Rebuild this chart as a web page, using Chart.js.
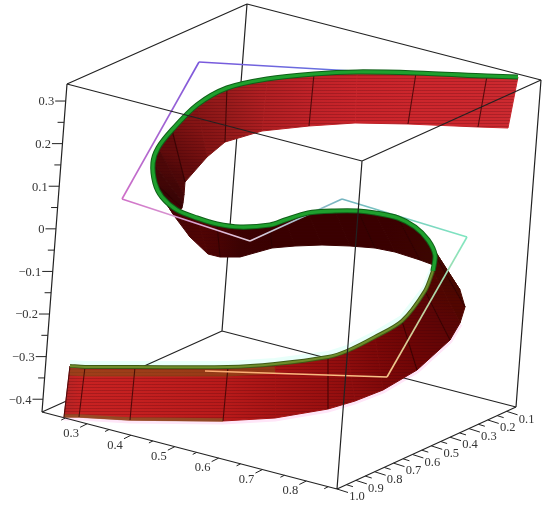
<!DOCTYPE html>
<html>
<head>
<meta charset="utf-8">
<style>
  html, body { margin: 0; padding: 0; background: #fff; }
  canvas { display: block; filter: blur(0.35px); }
</style>
<script src="https://cdn.jsdelivr.net/npm/chart.js@4"></script>
</head>
<body>
<canvas id="grafico" width="550" height="508"></canvas>
<script>
// cantos da caixa 3D
const boxX = [67, 247, 541, 362, 42, 222, 516, 337];
const boxY = [84, 4, 80, 161, 412, 331, 407, 489];
const backEdges = [[0, 1], [1, 2], [1, 5], [4, 5], [5, 6]];
const frontEdges = [[0, 3], [3, 2], [3, 7], [6, 7], [7, 4], [2, 6], [0, 4]];

// eixos
const zTicks = [0.3, 0.2, 0.1, 0, -0.1, -0.2, -0.3, -0.4];
const zMinor = [0.25, 0.15, 0.05, -0.05, -0.15, -0.25, -0.35];
const xTicks = [0.3, 0.4, 0.5, 0.6, 0.7, 0.8];
const xMinor = [0.25, 0.35, 0.45, 0.55, 0.65, 0.75, 0.85];
const yTicks = [0.1, 0.2, 0.3, 0.4, 0.5, 0.6, 0.7, 0.8, 0.9, 1.0];
const yMinor = [0.15, 0.25, 0.35, 0.45, 0.55, 0.65, 0.75, 0.85, 0.95];

// fita: borda de cima e borda de baixo, estacao por estacao
const topX = [518, 487, 416, 357, 314, 267, 227, 197, 172, 158, 153, 155, 162, 177, 197, 217, 240, 270, 285, 308, 335, 358, 375, 398, 415, 428, 435, 433, 425, 402, 375, 347, 328, 275, 228, 135, 85, 70];
const topY = [77, 76, 73, 72, 74, 79, 88, 105, 130, 148, 163, 183, 197, 210, 218, 224, 227, 225, 220, 213, 211, 211, 213, 218, 227, 240, 255, 271, 291, 321, 337, 351, 357, 364, 367, 367, 367, 366];
const botX = [508, 478, 408, 355, 309, 262, 225, 207, 185, 184, 183, 182, 175, 190, 208, 220, 240, 272, 295, 322, 350, 375, 395, 420, 447, 460, 465, 460, 450, 417, 383, 355, 328, 275, 223, 130, 79, 64];
const botY = [128, 127, 124, 123, 126, 131, 142, 157, 182, 195, 203, 208, 217, 237, 254, 257, 257, 248, 246, 245, 246, 248, 252, 260, 270, 290, 307, 323, 340, 370, 390, 401, 409, 418, 421, 420, 417, 417];
const ribbonShade = ['#cc2a30', '#cc282e', '#cc262c', '#c8242a', '#c02228', '#b01f22', '#951a1a', '#851414', '#640c0c', '#4e0808', '#420606', '#3a0505', '#420404', '#4a0404', '#500404', '#4a0303', '#3c0202', '#3a0000', '#3a0000', '#3a0000', '#3a0000', '#3a0000', '#3a0000', '#3c0200', '#3c0600', '#420800', '#480800', '#520600', '#5c0505', '#6e0505', '#7e0808', '#8e0d0d', '#980f0f', '#a81414', '#b81a1a', '#c42020', '#c82222', '#b82424'];
const ribStations = [1, 2, 4, 6, 8, 11, 15, 17, 21, 23, 26, 28, 29, 32, 34, 35, 36, 37];
const greenBreak = 27; // a partir daqui a borda verde fica oliva

// linha colorida fina que passa pela fita
const pathX = [370, 199, 122, 250, 342, 467, 387, 205];
const pathY = [72, 62, 199, 241, 199, 237, 377, 371];
const pathColors = ['#5f78e0', '#7a58dc', '#d070c8', '#e2cbdc', '#74b4c0', '#7fe6c0', '#f8c488', '#ffa870'];

const canvas = document.getElementById('grafico');
const ctx = canvas.getContext('2d');

function pontos(xs, ys) {
    return xs.map((x, i) => ({ x: x, y: ys[i] }));
}

function linha(data, cor, largura, extra) {
    return Object.assign({ data: data, showLine: true, borderColor: cor, borderWidth: largura, pointRadius: 0, fill: false, tension: 0 }, extra || {});
}

// ponto numa aresta da caixa, dado o valor do eixo
function naAresta(a, b, vA, vB, v) {
    const t = (v - vA) / (vB - vA);
    return { x: boxX[a] + (boxX[b] - boxX[a]) * t, y: boxY[a] + (boxY[b] - boxY[a]) * t };
}
const zPos = v => naAresta(0, 4, 0.34, -0.43, v);
const xPos = v => naAresta(4, 7, 0.197, 0.87, v);
const yPos = v => naAresta(7, 6, 1.0, 0.05, v);

function marcas(valores, posFn, dx, dy) {
    const out = [];
    valores.forEach(v => {
        const p = posFn(v);
        out.push(p, { x: p.x + dx, y: p.y + dy }, { x: NaN, y: NaN });
    });
    return out;
}

function arestas(lista) {
    const out = [];
    lista.forEach(e => {
        out.push({ x: boxX[e[0]], y: boxY[e[0]] }, { x: boxX[e[1]], y: boxY[e[1]] }, { x: NaN, y: NaN });
    });
    return out;
}

const datasets = [];

// halos claros em volta da parte de baixo da fita
datasets.push(linha(pontos(topX.slice(greenBreak), topY.slice(greenBreak).map(y => y - 3)), '#e8fffa', 6));
datasets.push(linha(pontos(botX.slice(greenBreak), botY.slice(greenBreak).map(y => y + 1)), '#ffe6f8', 5));

datasets.push(linha(arestas(backEdges), '#222', 1.2));

// quadrilateros da fita
for (let i = 0; i < topX.length - 1; i++) {
    datasets.push({
        data: [
            { x: topX[i], y: topY[i] }, { x: topX[i + 1], y: topY[i + 1] },
            { x: botX[i + 1], y: botY[i + 1] }, { x: botX[i], y: botY[i] }
        ],
        showLine: false,
        pointRadius: 0,
        quad: true,
        shadeFrom: ribbonShade[i],
        shadeTo: ribbonShade[i + 1]
    });
}

// faixas acastanhadas da parte de baixo
datasets.push(linha(pontos(topX.slice(33), topY.slice(33).map(y => y + 6)), 'rgba(125,85,20,0.55)', 7));
datasets.push(linha(pontos(botX.slice(34), botY.slice(34).map(y => y - 1)), 'rgba(130,95,40,0.65)', 3.5));

// nervuras
ribStations.forEach(i => {
    datasets.push(linha([{ x: topX[i], y: topY[i] }, { x: botX[i], y: botY[i] }], 'rgba(45,0,0,0.75)', 1.1));
});

// linha colorida, um gradiente por lado
for (let i = 0; i < pathX.length - 1; i++) {
    const g = ctx.createLinearGradient(pathX[i], pathY[i], pathX[i + 1], pathY[i + 1]);
    g.addColorStop(0, pathColors[i]);
    g.addColorStop(1, pathColors[i + 1]);
    datasets.push(linha([{ x: pathX[i], y: pathY[i] }, { x: pathX[i + 1], y: pathY[i + 1] }], g, 1.6));
}

// borda verde
const greenCimaX = topX.slice(0, greenBreak + 1), greenCimaY = topY.slice(0, greenBreak + 1);
const greenBaixoX = topX.slice(greenBreak), greenBaixoY = topY.slice(greenBreak);
datasets.push(linha(pontos(greenBaixoX, greenBaixoY), '#3e5a14', 4, { tension: 0.3 }));
datasets.push(linha(pontos(greenBaixoX, greenBaixoY), '#6d8c2a', 2, { tension: 0.3 }));
datasets.push(linha(pontos(greenCimaX, greenCimaY), '#0f6018', 5.2, { tension: 0.3 }));
datasets.push(linha(pontos(greenCimaX, greenCimaY), '#1fa02e', 3.2, { tension: 0.3 }));

datasets.push(linha(arestas(frontEdges), '#222', 1.2));

// marcas dos eixos
datasets.push(linha(marcas(zTicks, zPos, -10.5, 0), '#222', 1));
datasets.push(linha(marcas(zMinor, zPos, -6.5, 0), '#222', 1));
datasets.push(linha(marcas(xTicks, xPos, -7, 3.5), '#222', 1));
datasets.push(linha(marcas(xMinor, xPos, -4, 2), '#222', 1));
datasets.push(linha(marcas(yTicks, yPos, 11, 3.5), '#222', 1));
datasets.push(linha(marcas(yMinor, yPos, 6.5, 2), '#222', 1));

// o Chart desenha do maior order para o menor
datasets.forEach((d, i) => { d.order = datasets.length - i; });

// textura de riscas finas da superficie
const riscas = document.createElement('canvas');
riscas.width = 4;
riscas.height = 3;
const rctx = riscas.getContext('2d');
rctx.fillStyle = 'rgba(60,0,10,0.22)';
rctx.fillRect(0, 0, 4, 1);

const quadPlugin = {
    id: 'quadPlugin',
    beforeDatasetDraw(chart, args) {
        const d = chart.data.datasets[args.index];
        if (!d.quad) return;
        const pts = args.meta.data;
        const c = chart.ctx;
        const g = c.createLinearGradient(
            (pts[0].x + pts[3].x) / 2, (pts[0].y + pts[3].y) / 2,
            (pts[1].x + pts[2].x) / 2, (pts[1].y + pts[2].y) / 2
        );
        g.addColorStop(0, d.shadeFrom);
        g.addColorStop(1, d.shadeTo);
        c.save();
        c.beginPath();
        c.moveTo(pts[0].x, pts[0].y);
        for (let i = 1; i < 4; i++) c.lineTo(pts[i].x, pts[i].y);
        c.closePath();
        c.fillStyle = g;
        c.strokeStyle = g;
        c.lineWidth = 1;
        c.fill();
        c.stroke();
        c.fillStyle = c.createPattern(riscas, 'repeat');
        c.fill();
        c.restore();
    }
};

const rotulosPlugin = {
    id: 'rotulosPlugin',
    afterDraw(chart) {
        const c = chart.ctx, sx = chart.scales.x, sy = chart.scales.y;
        const texto = (t, p, dx, dy, align) => {
            c.textAlign = align;
            c.fillText(t, sx.getPixelForValue(p.x) + dx, sy.getPixelForValue(p.y) + dy);
        };
        c.save();
        c.font = '12.5px "Liberation Serif"';
        c.fillStyle = '#333';
        c.textBaseline = 'middle';
        zTicks.forEach(v => {
            const t = v === 0 ? '0' : (v < 0 ? '\u2212' + (-v).toFixed(1) : v.toFixed(1));
            texto(t, zPos(v), -11.5, 1, 'right');
        });
        xTicks.forEach(v => texto(v.toFixed(1), xPos(v), -16, 10, 'center'));
        yTicks.forEach(v => texto(v.toFixed(1), yPos(v), 20, 8, 'center'));
        c.restore();
    }
};

new Chart(ctx, {
    type: 'scatter',
    data: { datasets: datasets },
    options: {
        responsive: false,
        animation: false,
        layout: { padding: 0 },
        plugins: { legend: { display: false }, title: { display: false }, tooltip: { enabled: false } },
        scales: {
            x: { type: 'linear', min: 0, max: 550, display: false },
            y: { type: 'linear', min: 0, max: 508, reverse: true, display: false }
        }
    },
    plugins: [quadPlugin, rotulosPlugin]
});
</script>
</body>
</html>
